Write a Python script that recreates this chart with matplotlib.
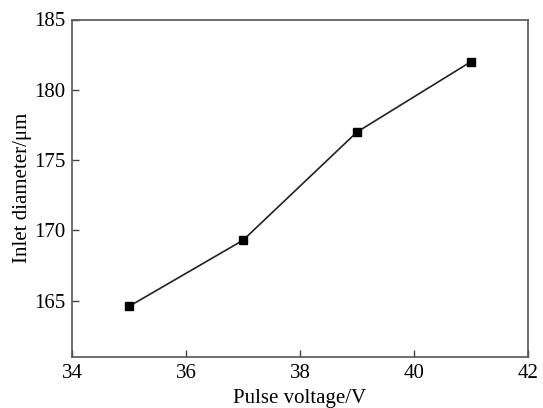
import matplotlib
matplotlib.use("Agg")
import matplotlib.pyplot as plt

# pulse voltage vs inlet diameter
voltage = [35, 37, 39, 41]
diameter = [164.6, 169.3, 177.0, 182.0]
x_ticks = [34, 36, 38, 40, 42]
y_ticks = [165, 170, 175, 180, 185]

plt.rcParams['font.family'] = ['Liberation Serif', 'DejaVu Serif']

fig = plt.figure(figsize=(5.43, 4.08), dpi=100)
ax = fig.add_axes([72 / 543, 1 - 357 / 408, (528 - 72) / 543, (357 - 19.5) / 408])

ax.plot(voltage, diameter, color='#222222', linewidth=1.2,
        marker='s', markersize=5.5, markerfacecolor='black', markeredgecolor='black')

ax.set_xlim(34, 42)
ax.set_ylim(161, 185)
ax.set_xticks(x_ticks)
ax.set_yticks(y_ticks)
ax.tick_params(direction='in', length=5, width=1, labelsize=15, color='#444444', pad=5)

for s in ax.spines.values():
    s.set_color('#555555')
    s.set_linewidth(1.2)

ax.set_xlabel("Pulse voltage/V", fontsize=15, labelpad=4)
ax.set_ylabel("Inlet diameter/\u03bcm", fontsize=15, labelpad=1)

fig.savefig("out.png", dpi=100)
